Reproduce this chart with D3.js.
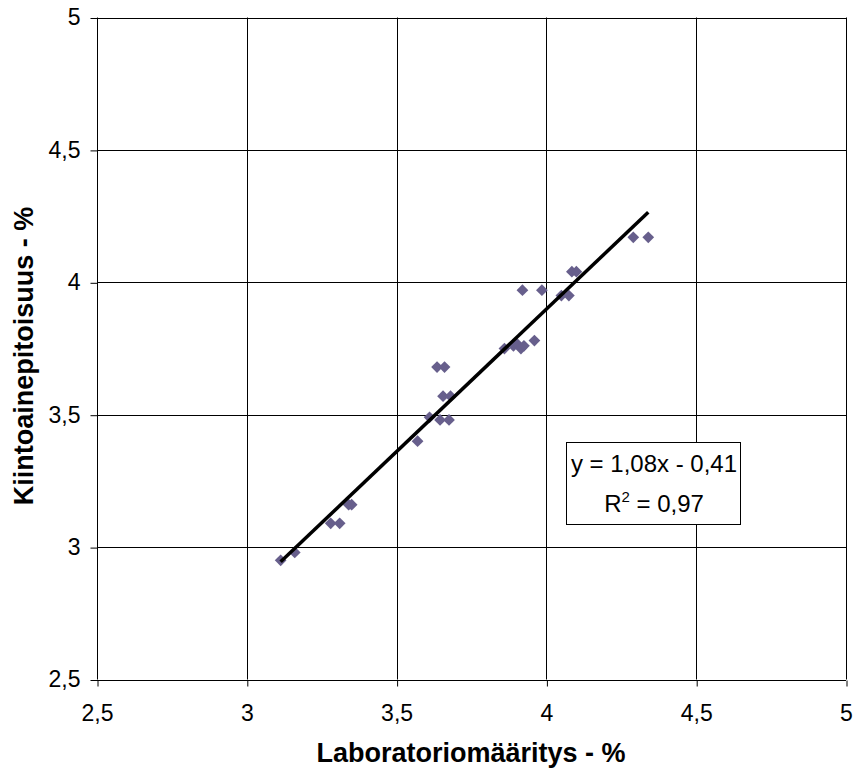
<!DOCTYPE html>
<html><head><meta charset="utf-8">
<script src="https://cdn.jsdelivr.net/npm/d3@7"></script>
<style>body{margin:0;background:#fff;} svg{display:block;font-family:"Liberation Sans",Arial,sans-serif;}</style>
</head><body>
<script>
const xValues = [3.113,3.16,3.28,3.31,3.34,3.35,3.57,3.61,3.635,3.66,3.655,3.68,3.645,3.675,3.86,3.89,3.90,3.915,3.925,3.96,3.92,3.985,4.05,4.075,4.085,4.10,4.29,4.34];
const yValues = [2.95,2.98,3.09,3.09,3.16,3.16,3.40,3.49,3.68,3.68,3.57,3.57,3.48,3.48,3.75,3.76,3.77,3.75,3.76,3.78,3.97,3.97,3.95,3.95,4.04,4.04,4.17,4.17];
const xTicks = [2.5,3,3.5,4,4.5,5];
const yTicks = [2.5,3,3.5,4,4.5,5];
const xTitle = "Laboratoriomääritys - %";
const yTitle = "Kiintoainepitoisuus - %";
const eqLine1 = "y = 1,08x - 0,41";
const eqR2 = " = 0,97";

const W=864,H=769;
const svg=d3.select("body").append("svg").attr("width",W).attr("height",H);
const L=97,R=846,T=17.5,B=679.5;
const x=d3.scaleLinear().domain([2.5,5]).range([L,R]);
const y=d3.scaleLinear().domain([2.5,5]).range([B,T]);
const fmt=d=>String(d).replace(".",",");

// least-squares trendline from the data
const mx=d3.mean(xValues), my=d3.mean(yValues);
let sxy=0,sxx=0; xValues.forEach((v,i)=>{sxy+=(v-mx)*(yValues[i]-my);sxx+=(v-mx)*(v-mx);});
const slope=sxy/sxx, intercept=my-slope*mx;

// grid
svg.append("g").selectAll("line").data(xTicks).join("line")
 .attr("x1",d=>Math.round(x(d))+0.5).attr("x2",d=>Math.round(x(d))+0.5).attr("y1",T).attr("y2",B)
 .attr("stroke","#000").attr("stroke-width",1);
svg.append("g").selectAll("line").data(yTicks).join("line")
 .attr("y1",d=>Math.round(y(d))+0.5).attr("y2",d=>Math.round(y(d))+0.5).attr("x1",L).attr("x2",R)
 .attr("stroke","#000").attr("stroke-width",1);

// axes
const xa=svg.append("g").attr("transform",`translate(0,${Math.round(B)+0.5})`)
 .call(d3.axisBottom(x).tickValues(xTicks).tickFormat(fmt).tickSize(6).tickPadding(18));
const ya=svg.append("g").attr("transform",`translate(${Math.round(L)+0.5},0)`)
 .call(d3.axisLeft(y).tickValues(yTicks).tickFormat(fmt).tickSize(7).tickPadding(10));
[xa,ya].forEach(a=>{a.select(".domain").remove();a.selectAll("text").attr("font-size",23).attr("fill","#000").attr("font-family","Liberation Sans, Arial, sans-serif");a.selectAll(".tick line").attr("stroke","#000");});
xa.selectAll(".tick line").attr("transform","translate(0.5,0)");
ya.selectAll(".tick line").attr("transform","translate(0,0.5)");

// points
const pts=xValues.map((v,i)=>[v,yValues[i]]);
svg.append("g").selectAll("path").data(pts).join("path")
 .attr("d",d3.symbol().type(d3.symbolDiamond2).size(88))
 .attr("transform",d=>`translate(${x(d[0])},${y(d[1])})`)
 .attr("fill","#675f8c");

// trendline
const x0=d3.min(xValues),x1=d3.max(xValues);
svg.append("line").attr("x1",x(x0)).attr("y1",y(slope*x0+intercept))
 .attr("x2",x(x1)).attr("y2",y(slope*x1+intercept))
 .attr("stroke","#000").attr("stroke-width",3.5);

// equation box
svg.append("rect").attr("x",566.5).attr("y",442.5).attr("width",174).attr("height",82)
 .attr("fill","#fff").attr("stroke","#000").attr("stroke-width",1);
svg.append("text").attr("x",654).attr("y",472).attr("text-anchor","middle").attr("font-size",24).text(eqLine1);
const t2=svg.append("text").attr("x",654).attr("y",512).attr("text-anchor","middle").attr("font-size",24);
t2.append("tspan").text("R");
t2.append("tspan").attr("font-size",15).attr("dy",-10).text("2");
t2.append("tspan").attr("dy",10).text(eqR2);

// titles
svg.append("text").attr("x",471).attr("y",762).attr("text-anchor","middle").attr("font-size",27).attr("font-weight","bold").text(xTitle);
svg.append("text").attr("transform","translate(33,356) rotate(-90)").attr("text-anchor","middle").attr("font-size",27).attr("font-weight","bold").text(yTitle);
</script>
</body></html>
